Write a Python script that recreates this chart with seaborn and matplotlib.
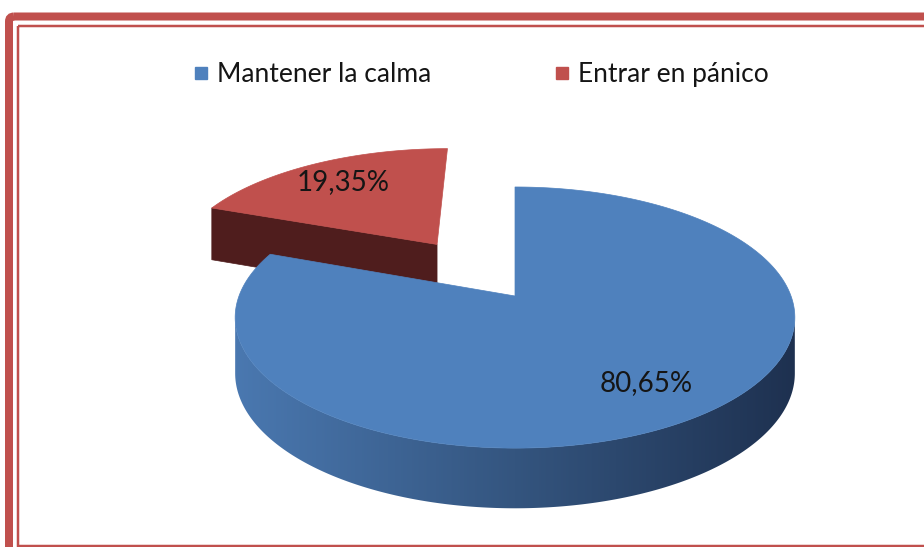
import numpy as np
import matplotlib
matplotlib.use("Agg")
import matplotlib.pyplot as plt
from matplotlib.patches import Polygon, FancyBboxPatch, Rectangle
from matplotlib.lines import Line2D
from matplotlib.colors import LinearSegmentedColormap
import seaborn as sns

# ---------------- data ----------------
categories = ["Mantener la calma", "Entrar en pánico"]
values = [80.65, 19.35]
value_labels = ["80,65%", "19,35%"]
explode = [0.0, 0.53]

# ---------------- style ----------------
sns.set_theme(style="white")
plt.rcParams['font.family'] = ['Lato', 'DejaVu Sans']

top_colors = sns.color_palette(["#4f81bd", "#c0504d"])
face_colors = ["#2c4a70", "#4f1d1d"]
side_cmaps = [
    LinearSegmentedColormap.from_list("bside", ["#4a78b0", "#34557f", "#1e3150"]),
    LinearSegmentedColormap.from_list("rside", ["#7a2e2c", "#5e2423", "#4f1d1d"]),
]
border_color = "#c0504d"
text_color = "#151515"

W, H = 924, 547
fig = plt.figure(figsize=(W / 100, H / 100), dpi=100)
ax = fig.add_axes([0, 0, 1, 1])
ax.set_xlim(0, W)
ax.set_ylim(H, 0)
ax.axis("off")

# 3D pie projection parameters (layout)
CX, CY, RX, RY, K, DEPTH = 515, 296, 276, 127, 0.165, 55


def proj(u, v, down=0.0):
    u = np.asarray(u, dtype=float)
    v = np.asarray(v, dtype=float)
    s = 1.0 / (1.0 + K * v)
    return CX + RX * u * s, CY - RY * v * s + down * DEPTH * np.sqrt(s)


vals = np.array(values, dtype=float)
fr = vals / vals.sum()
ends = np.cumsum(fr) * 360.0
starts = ends - fr * 360.0

x_left = CX - RX * 1.014
x_right = CX + RX * 1.014
grad = np.linspace(0, 1, 512).reshape(1, -1)

slices = []
for i in range(len(vals)):
    mid = np.radians((starts[i] + ends[i]) / 2)
    ou, ov = explode[i] * np.sin(mid), explode[i] * np.cos(mid)
    slices.append((ov, i, ou, mid))

# back to front
for ov, i, ou, mid in sorted(slices, key=lambda t: -t[0]):
    a0, a1 = np.radians(starts[i]), np.radians(ends[i])
    th = np.linspace(a0, a1, 600)
    ru, rv = ou + np.sin(th), ov + np.cos(th)

    # radial faces
    for a, n in ((a0, (-np.cos(a0), np.sin(a0))), (a1, (np.cos(a1), -np.sin(a1)))):
        if n[1] < -1e-6:
            cx0, cy0 = proj(ou, ov)
            ex0, ey0 = proj(ou + np.sin(a), ov + np.cos(a))
            ex1, ey1 = proj(ou + np.sin(a), ov + np.cos(a), 1)
            cx1, cy1 = proj(ou, ov, 1)
            ax.add_patch(Polygon([[cx0, cy0], [ex0, ey0], [ex1, ey1], [cx1, cy1]],
                                 closed=True, fc=face_colors[i], ec=face_colors[i], lw=0.5))

    # curved side with horizontal gradient
    camv = -1.0 / K
    vis = np.sin(th) * (-ru) + np.cos(th) * (camv - rv) > 0
    tx, ty = proj(ru, rv)
    bx, by = proj(ru, rv, 1)
    if vis.any():
        idx = np.where(vis)[0]
        xs = np.concatenate([tx[idx], bx[idx][::-1]])
        ys = np.concatenate([ty[idx], by[idx][::-1]])
        side = Polygon(np.column_stack([xs, ys]), closed=True, fc="none", ec="none")
        ax.add_patch(side)
        im = ax.imshow(grad, cmap=side_cmaps[i], aspect="auto",
                       extent=[x_left, x_right, ys.max() + 2, ys.min() - 2],
                       interpolation="bilinear", zorder=1)
        im.set_clip_path(side)

    # top face
    cxp, cyp = proj(ou, ov)
    pts = np.column_stack([np.concatenate([[cxp], tx]), np.concatenate([[cyp], ty])])
    ax.add_patch(Polygon(pts, closed=True, fc=top_colors[i], ec=top_colors[i], lw=0.5, zorder=1))

    # value label
    lx, ly = proj(ou + 0.75 * np.sin(mid), ov + 0.75 * np.cos(mid))
    ax.text(float(lx), float(ly), value_labels[i], ha="center", va="center",
            fontsize=20, color=text_color, zorder=3)

ax.set_xlim(0, W)
ax.set_ylim(H, 0)

# legend
handles = [Line2D([], [], marker="s", linestyle="", markersize=8,
                  markerfacecolor=top_colors[i], markeredgecolor=top_colors[i])
           for i in range(len(categories))]
fig.legend(handles, categories, loc="center", bbox_to_anchor=(0.5216, 0.863),
           ncol=2, frameon=False, fontsize=19, handletextpad=0.4,
           columnspacing=4.7, handlelength=0.45, labelcolor=text_color)

# border (double red frame)
ax.add_patch(FancyBboxPatch((9, 16.5), 960, 560, boxstyle="round,pad=0,rounding_size=5",
                            fill=False, ec=border_color, lw=8 * 0.72, clip_on=False, zorder=4))
ax.add_patch(Rectangle((17.5, 25.5), 960, 520, fill=False, ec=border_color,
                       lw=2.5 * 0.72, clip_on=False, zorder=4))

fig.savefig("out.png", dpi=100)
